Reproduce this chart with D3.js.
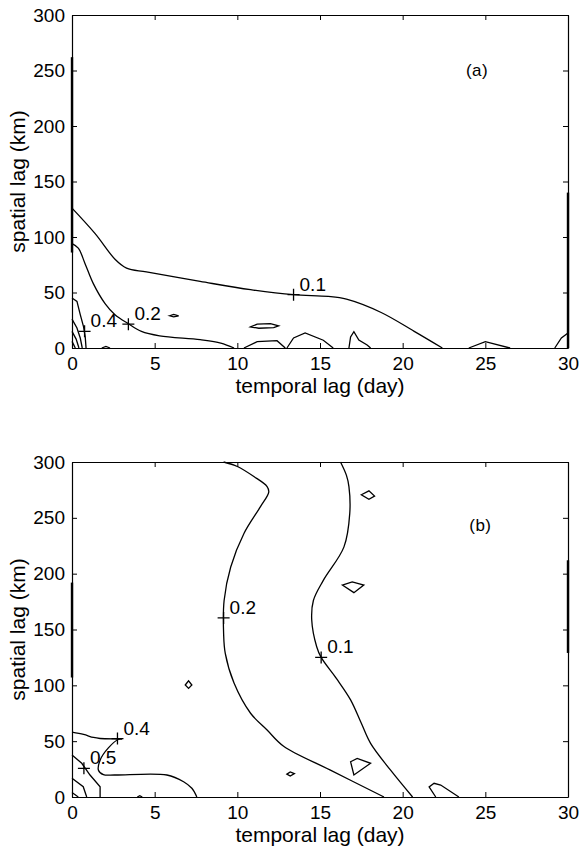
<!DOCTYPE html>
<html>
<head>
<meta charset="utf-8">
<script src="https://cdn.jsdelivr.net/npm/d3@7"></script>
<style>
  body { margin: 0; background: #fff; }
  svg { display: block; }
  text { font-family: "Liberation Sans", Arial, Helvetica, sans-serif; fill: #000; }
</style>
</head>
<body>
<svg id="chart" width="583" height="849"></svg>
<script>
// ---------- data ----------
const xTicks = [0, 5, 10, 15, 20, 25, 30];
const yTicks = [0, 50, 100, 150, 200, 250, 300];
const xTitle = "temporal lag (day)";
const yTitle = "spatial lag (km)";
const panelNames = ["(a)", "(b)"];

// Panel (a) contour lines [day, km]
const aContour01 = [[0,126],[1.4,103],[2.6,80],[3.3,72],[4.5,68.5],[7.75,60],[10.8,52.5],[13.4,48],[15.5,46.5],[16.6,44],[18.7,32],[20.7,15],[22.4,0]];
const aContour02 = [[0,94],[0.38,90],[0.79,76],[1.29,58],[2.0,40],[2.6,30],[3.4,22],[4.2,15],[5.3,11],[7.75,7.5],[9,4.5],[9.8,0]];
const aContour04 = [[0,45],[0.3,42],[0.5,30],[0.7,19],[0.8,10],[0.85,0]];
const aInner1 = [[0,26],[0.3,18],[0.5,9],[0.62,0]];
const aInner2 = [[0,15],[0.25,8],[0.42,0]];
const aInner3 = [[0,6],[0.2,0]];
const aBlobs = [
  [[5.9,29],[6.15,30.2],[6.45,29],[6.15,28]],
  [[10.8,19],[11.2,21.5],[12.0,22],[12.5,20],[12.2,18.3],[11.3,17.8]]
];
const aBumps = [
  [[1.8,0],[2.05,1.5],[2.3,0]],
  [[10.4,0],[11.2,5.7],[12.4,6.6],[12.9,0]],
  [[13.0,0],[13.4,9],[14.1,13.5],[15.2,7],[15.8,0]],
  [[16.75,0],[16.85,10],[17.05,14.7],[17.35,7.2],[17.85,2.7],[18.06,0]],
  [[24.0,0],[25.0,5.7],[26.5,0]],
  [[29.2,0],[29.6,9],[30,13.5]]
];
const aLabelPts = [[13.4,48],[3.41,21.5],[0.76,15]];
const aLabelTxt = ["0.1","0.2","0.4"];
const aThick = [{side:"left", from:86, to:262},{side:"right", from:0, to:140}];

// Panel (b) contour lines [day, km]
const bContour02 = [[9.17,300],[10.0,296],[11.0,287],[11.8,278],[11.9,273],[11.4,260],[10.4,236],[9.6,206],[9.2,176],[9.17,146.5],[9.27,128.6],[9.8,102],[10.8,75],[11.8,60],[12.8,45.5],[15.6,24.3],[18.87,0]];
const bContour01 = [[16.24,300],[16.6,288],[16.75,278],[16.8,254],[16.45,224],[15.2,194],[14.6,176],[14.5,158.5],[14.8,134.6],[15.07,125],[16.0,106],[16.85,87],[17.5,66],[18.06,48],[19.27,24],[20.6,0]];
const bContour04 = [[0,58],[0.7,56],[1.3,53.3],[1.7,52.4],[3.0,51.8],[2.8,51.5],[2.2,44],[1.7,33],[1.6,24],[1.9,20],[2.6,19.7],[5.74,19.7],[6.75,13.7],[7.25,7.8],[7.55,0]];
const bContour05 = [[0,37.6],[0.59,30.2],[1.09,19.7],[1.7,9.2],[1.7,0]];
const bInner1 = [[0,16.7],[0.68,9.2],[0.89,0]];
const bInner2 = [[0,4],[0.38,0]];
const bBlobs = [
  [[17.5,270.7],[17.96,274.2],[18.3,269.5],[17.96,266.6]],
  [[16.35,189.8],[16.95,192.7],[17.65,189.8],[17.05,183]],
  [[6.85,100.3],[7.05,104],[7.25,100.3],[7.05,97.3]],
  [[13.0,20.5],[13.2,22.4],[13.45,21],[13.2,18.8]],
  [[16.85,31.6],[17.25,34.6],[18.06,30.2],[17.05,19.7]]
];
const bBumps = [
  [[22.0,0],[21.6,9],[21.9,12.3],[22.3,10.7],[23.4,0]],
  [[3.95,0],[4.1,1.2],[4.25,0]]
];
const bLabelPts = [[9.17,160.4],[15.07,125],[2.75,52.3],[0.72,25.7]];
const bLabelTxt = ["0.2","0.1","0.4","0.5"];
const bThick = [{side:"left", from:107, to:192},{side:"right", from:129, to:212}];

// ---------- layout ----------
const svg = d3.select("#chart");
const left = 72, right = 568;
const panels = [
  {top:15, bottom:348, smooth:[aContour01,aContour02], lin:[aContour04,aInner1,aInner2,aInner3].concat(aBumps), blobs:aBlobs, pts:aLabelPts, txt:aLabelTxt, thick:aThick, name:panelNames[0], namePos:[24.5,245]},
  {top:462, bottom:797, smooth:[bContour02,bContour01,bContour04], lin:[bContour05,bInner1,bInner2].concat(bBumps), blobs:bBlobs, pts:bLabelPts, txt:bLabelTxt, thick:bThick, name:panelNames[1], namePos:[24.7,238]}
];

panels.forEach(p => {
  const x = d3.scaleLinear().domain([0,30]).range([left,right]);
  const y = d3.scaleLinear().domain([0,300]).range([p.bottom,p.top]);
  const g = svg.append("g");

  // axes with inward ticks
  g.append("g").attr("transform",`translate(0,${p.bottom})`)
    .call(d3.axisBottom(x).tickValues(xTicks).tickSize(-5).tickSizeOuter(0).tickPadding(9));
  g.append("g").attr("transform",`translate(${left},0)`)
    .call(d3.axisLeft(y).tickValues(yTicks).tickSize(-5).tickSizeOuter(0).tickPadding(7));
  g.append("g").attr("transform",`translate(0,${p.top})`)
    .call(d3.axisTop(x).tickValues(xTicks).tickSize(-5).tickSizeOuter(0).tickFormat(""));
  g.append("g").attr("transform",`translate(${right},0)`)
    .call(d3.axisRight(y).tickValues(yTicks).tickSize(-5).tickSizeOuter(0).tickFormat(""));
  g.selectAll(".domain").attr("stroke","#000").attr("stroke-width",1.2);
  g.selectAll(".tick line").attr("stroke","#000").attr("stroke-width",1);
  g.selectAll(".tick text").attr("font-size",19).attr("font-family","Liberation Sans, Arial, sans-serif").attr("fill","#000");

  // thicker axis segments (scan artefacts)
  p.thick.forEach(t => {
    const xx = t.side === "left" ? left : right;
    g.append("line").attr("x1",xx).attr("x2",xx).attr("y1",y(t.from)).attr("y2",y(t.to))
      .attr("stroke","#000").attr("stroke-width",2.4);
  });

  // titles
  g.append("text").attr("x",(left+right)/2).attr("y",p.bottom+45).attr("text-anchor","middle")
    .attr("font-size",21).text(xTitle);
  g.append("text").attr("transform",`translate(25,${(p.top+p.bottom)/2}) rotate(-90)`)
    .attr("text-anchor","middle").attr("font-size",21).text(yTitle);
  g.append("text").attr("x",x(p.namePos[0])).attr("y",y(p.namePos[1]))
    .attr("text-anchor","middle").attr("font-size",17).attr("font-family","DejaVu Sans Mono, monospace")
    .attr("letter-spacing",0.5).text(p.name);

  const smooth = d3.line().x(d=>x(d[0])).y(d=>y(d[1])).curve(d3.curveCatmullRom.alpha(0.5));
  const lin = d3.line().x(d=>x(d[0])).y(d=>y(d[1]));
  const closed = d3.line().x(d=>x(d[0])).y(d=>y(d[1])).curve(d3.curveLinearClosed);

  g.selectAll(null).data(p.smooth).enter().append("path").attr("d",smooth)
    .attr("fill","none").attr("stroke","#000").attr("stroke-width",1.3);
  g.selectAll(null).data(p.lin).enter().append("path").attr("d",lin)
    .attr("fill","none").attr("stroke","#000").attr("stroke-width",1.3);
  g.selectAll(null).data(p.blobs).enter().append("path").attr("d",closed)
    .attr("fill","none").attr("stroke","#000").attr("stroke-width",1.3);

  // plus marks + labels
  p.pts.forEach((pt,i) => {
    const cx = x(pt[0]), cy = y(pt[1]);
    g.append("path").attr("d",`M${cx-6},${cy}H${cx+6}M${cx},${cy-6}V${cy+6}`)
      .attr("stroke","#000").attr("stroke-width",1.3);
    g.append("text").attr("x",cx+6).attr("y",cy-4).attr("font-size",19).text(p.txt[i]);
  });
});
</script>
</body>
</html>
